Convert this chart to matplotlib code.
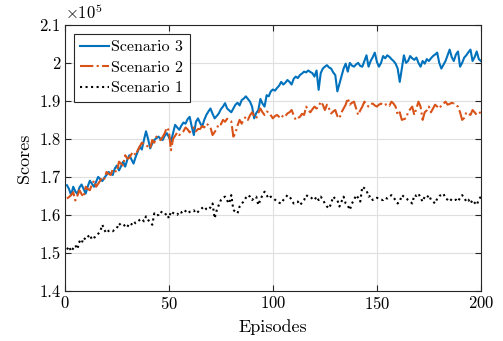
import numpy as np
import matplotlib
matplotlib.use("Agg")
import matplotlib.pyplot as plt
from matplotlib.ticker import FuncFormatter

plt.rcParams['font.family'] = 'serif'
plt.rcParams['font.serif'] = ['cmr10']
plt.rcParams['mathtext.fontset'] = 'cm'
plt.rcParams['axes.formatter.use_mathtext'] = True

# scores in units of 1e5, one value per episode (1..200)
episodes = np.arange(1, 201)

scenario3 = [
    1.678, 1.668, 1.652, 1.674, 1.662, 1.655, 1.672, 1.680, 1.668, 1.656,
    1.675, 1.690, 1.682, 1.674, 1.687, 1.700, 1.694, 1.689, 1.698, 1.705,
    1.713, 1.708, 1.705, 1.722, 1.730, 1.717, 1.728, 1.740, 1.727, 1.745,
    1.757, 1.746, 1.735, 1.752, 1.766, 1.780, 1.772, 1.797, 1.820, 1.800,
    1.775, 1.788, 1.797, 1.802, 1.806, 1.800, 1.797, 1.808, 1.815, 1.805,
    1.793, 1.815, 1.837, 1.830, 1.824, 1.835, 1.843, 1.840, 1.852, 1.858,
    1.832, 1.810, 1.845, 1.854, 1.842, 1.832, 1.850, 1.863, 1.872, 1.880,
    1.866, 1.854, 1.860, 1.867, 1.878, 1.885, 1.894, 1.880, 1.875, 1.870,
    1.880, 1.890, 1.895, 1.888, 1.902, 1.906, 1.912, 1.905, 1.898, 1.885,
    1.854, 1.868, 1.876, 1.905, 1.893, 1.885, 1.915, 1.912, 1.925, 1.930,
    1.927, 1.934, 1.940, 1.950, 1.943, 1.948, 1.955, 1.950, 1.943, 1.958,
    1.964, 1.960, 1.968, 1.972, 1.977, 1.975, 1.980, 1.976, 1.973, 1.964,
    1.980, 1.929, 1.973, 1.985, 1.990, 1.994, 1.988, 1.985, 1.975, 1.968,
    1.925, 1.945, 1.964, 1.985, 1.998, 1.977, 2.000, 1.993, 1.990, 1.996,
    2.000, 1.992, 1.990, 2.005, 2.020, 1.990, 2.005, 2.015, 2.027, 2.003,
    1.990, 2.000, 2.018, 2.012, 2.020, 2.016, 2.010, 2.005, 1.998, 1.985,
    1.950, 1.985, 2.020, 2.000, 2.005, 2.018, 2.012, 2.008, 2.014, 2.000,
    1.990, 2.005, 1.998, 2.010, 2.005, 2.012, 2.018, 2.022, 2.027, 2.000,
    1.985, 1.995, 2.005, 2.020, 2.035, 2.015, 2.005, 2.022, 2.030, 1.990,
    2.000, 2.014, 2.020, 2.028, 2.035, 2.005, 2.015, 2.030, 2.010, 2.005,
]

scenario2 = [
    1.643, 1.647, 1.652, 1.660, 1.638, 1.650, 1.665, 1.655, 1.647, 1.674,
    1.668, 1.665, 1.680, 1.690, 1.674, 1.682, 1.690, 1.700, 1.695, 1.713,
    1.708, 1.705, 1.720, 1.716, 1.713, 1.740, 1.735, 1.730, 1.757, 1.748,
    1.750, 1.760, 1.766, 1.757, 1.770, 1.780, 1.790, 1.786, 1.785, 1.778,
    1.775, 1.797, 1.790, 1.806, 1.800, 1.797, 1.805, 1.815, 1.830, 1.822,
    1.770, 1.800, 1.808, 1.817, 1.810, 1.815, 1.820, 1.830, 1.825, 1.817,
    1.824, 1.830, 1.820, 1.826, 1.826, 1.834, 1.830, 1.840, 1.836, 1.830,
    1.810, 1.818, 1.826, 1.840, 1.838, 1.850, 1.845, 1.853, 1.850, 1.846,
    1.806, 1.815, 1.835, 1.850, 1.840, 1.852, 1.858, 1.850, 1.862, 1.870,
    1.860, 1.854, 1.868, 1.880, 1.870, 1.863, 1.872, 1.870, 1.862, 1.854,
    1.860, 1.863, 1.858, 1.854, 1.863, 1.860, 1.867, 1.870, 1.876, 1.862,
    1.850, 1.855, 1.858, 1.866, 1.863, 1.885, 1.875, 1.870, 1.878, 1.885,
    1.880, 1.885, 1.898, 1.890, 1.876, 1.890, 1.880, 1.867, 1.872, 1.876,
    1.860, 1.854, 1.870, 1.880, 1.890, 1.907, 1.890, 1.895, 1.898, 1.880,
    1.863, 1.875, 1.885, 1.898, 1.890, 1.885, 1.892, 1.893, 1.888, 1.885,
    1.890, 1.893, 1.888, 1.890, 1.892, 1.887, 1.898, 1.893, 1.885, 1.863,
    1.870, 1.850, 1.852, 1.854, 1.870, 1.878, 1.885, 1.863, 1.880, 1.898,
    1.885, 1.850, 1.870, 1.875, 1.885, 1.870, 1.880, 1.890, 1.885, 1.880,
    1.888, 1.893, 1.898, 1.890, 1.892, 1.895, 1.893, 1.888, 1.885, 1.870,
    1.850, 1.855, 1.870, 1.866, 1.863, 1.876, 1.870, 1.863, 1.868, 1.870,
]

scenario1 = [
    1.509, 1.517, 1.504, 1.512, 1.520, 1.510, 1.530, 1.524, 1.540, 1.535,
    1.542, 1.548, 1.535, 1.540, 1.543, 1.550, 1.557, 1.574, 1.560, 1.552,
    1.558, 1.560, 1.557, 1.562, 1.565, 1.578, 1.572, 1.570, 1.574, 1.568,
    1.578, 1.575, 1.583, 1.578, 1.582, 1.587, 1.590, 1.583, 1.596, 1.587,
    1.580, 1.574, 1.604, 1.598, 1.600, 1.609, 1.605, 1.600, 1.604, 1.591,
    1.609, 1.605, 1.602, 1.600, 1.609, 1.606, 1.613, 1.610, 1.604, 1.608,
    1.609, 1.612, 1.604, 1.608, 1.613, 1.618, 1.622, 1.615, 1.613, 1.620,
    1.630, 1.591, 1.612, 1.626, 1.639, 1.645, 1.648, 1.638, 1.630, 1.652,
    1.613, 1.608, 1.604, 1.622, 1.630, 1.635, 1.645, 1.652, 1.648, 1.639,
    1.645, 1.648, 1.626, 1.640, 1.652, 1.661, 1.652, 1.643, 1.648, 1.645,
    1.640, 1.635, 1.632, 1.630, 1.639, 1.645, 1.652, 1.648, 1.640, 1.630,
    1.633, 1.635, 1.626, 1.632, 1.639, 1.652, 1.648, 1.648, 1.642, 1.639,
    1.648, 1.639, 1.648, 1.640, 1.630, 1.622, 1.617, 1.630, 1.648, 1.642,
    1.639, 1.622, 1.635, 1.648, 1.630, 1.625, 1.613, 1.630, 1.639, 1.652,
    1.645, 1.635, 1.674, 1.670, 1.665, 1.648, 1.650, 1.639, 1.643, 1.645,
    1.643, 1.640, 1.639, 1.645, 1.643, 1.648, 1.652, 1.645, 1.639, 1.630,
    1.635, 1.652, 1.648, 1.645, 1.639, 1.635, 1.630, 1.652, 1.650, 1.656,
    1.645, 1.635, 1.648, 1.645, 1.652, 1.640, 1.635, 1.630, 1.643, 1.650,
    1.652, 1.656, 1.643, 1.640, 1.635, 1.642, 1.639, 1.640, 1.635, 1.645,
    1.652, 1.645, 1.635, 1.640, 1.630, 1.639, 1.632, 1.626, 1.640, 1.648,
]

fig = plt.figure(figsize=(5.03, 3.41), dpi=100)
ax = fig.add_axes([0.129, 0.147, 0.827, 0.780])

ax.plot(episodes, scenario3, '-', color='#0072BD', lw=1.5, label='Scenario 3')
ax.plot(episodes, scenario2, '-.', color='#D95319', lw=1.5, label='Scenario 2')
ax.plot(episodes, scenario1, ':', color='black', lw=1.5, label='Scenario 1')

ax.set_xlim(0, 200)
ax.set_ylim(1.4, 2.1)
ax.set_xticks([0, 50, 100, 150, 200])
ax.set_yticks(np.arange(1.4, 2.11, 0.1))
ax.yaxis.set_major_formatter(FuncFormatter(lambda v, p: '%g' % round(v, 1)))
ax.grid(True, color='#dfdfdf', lw=0.8)
ax.set_axisbelow(True)
ax.tick_params(direction='in', top=True, right=True, labelsize=12, length=4,
               color='#262626', pad=3)
for s in ax.spines.values():
    s.set_color('#262626')
    s.set_linewidth(0.8)

ax.set_xlabel('Episodes', fontsize=13, labelpad=5)
ax.set_ylabel('Scores', fontsize=13, labelpad=5)
ax.text(0, 1.012, r'$\times10^5$', transform=ax.transAxes, fontsize=12,
        ha='left', va='bottom')

leg = ax.legend(loc='upper left', fontsize=11.5, fancybox=False, framealpha=1,
                edgecolor='#262626', borderaxespad=0.55, handlelength=1.8,
                handletextpad=0.15, borderpad=0.4, labelspacing=0.4)
leg.get_frame().set_linewidth(0.8)

fig.savefig('out.png', dpi=100)
